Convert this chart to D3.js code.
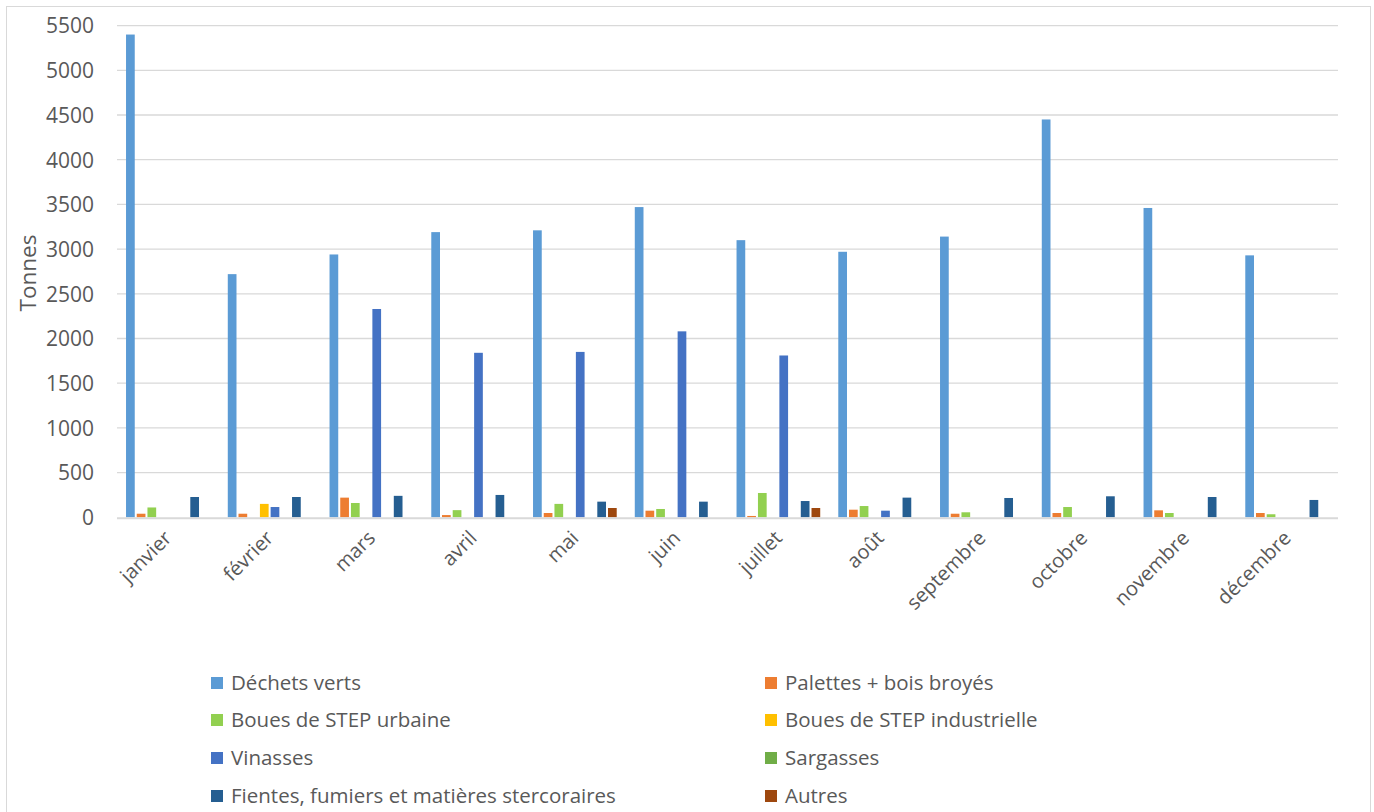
<!DOCTYPE html>
<html>
<head>
<meta charset="utf-8">
<script src="https://cdn.jsdelivr.net/npm/d3@7"></script>
<style>
  html, body { margin: 0; padding: 0; background: #fff; }
  svg { display: block; font-family: "Open Sans", "Noto Sans", sans-serif; }
</style>
</head>
<body>
<svg id="chart" width="1374" height="812"></svg>
<script>
const months = ["janvier","février","mars","avril","mai","juin","juillet","août","septembre","octobre","novembre","décembre"];
const seriesNames = ["Déchets verts","Palettes + bois broyés","Boues de STEP urbaine","Boues de STEP industrielle","Vinasses","Sargasses","Fientes, fumiers et matières stercoraires","Autres"];
const seriesColors = ["#5B9BD5","#ED7D31","#92D050","#FFC000","#4472C4","#70AD47","#255E91","#9E480E"];

const dechetsVerts = [5400, 2720, 2940, 3190, 3210, 3470, 3100, 2970, 3140, 4450, 3460, 2930];
const palettes     = [40, 40, 220, 25, 48, 74, 15, 85, 40, 48, 78, 48];
const bouesUrbaine = [110, 0, 160, 80, 150, 93, 272, 126, 56, 115, 48, 34];
const bouesIndus   = [0, 150, 0, 0, 0, 0, 0, 0, 0, 0, 0, 0];
const vinasses     = [0, 115, 2330, 1840, 1850, 2080, 1810, 74, 0, 0, 0, 0];
const sargasses    = [0, 0, 0, 0, 0, 0, 0, 0, 0, 0, 0, 0];
const fientes      = [227, 227, 240, 250, 175, 175, 182, 220, 216, 235, 227, 194];
const autres       = [0, 0, 0, 0, 104, 0, 104, 0, 0, 0, 0, 0];

const yTicks = [0,500,1000,1500,2000,2500,3000,3500,4000,4500,5000,5500];
const yTitle = "Tonnes";

const seriesValues = [dechetsVerts, palettes, bouesUrbaine, bouesIndus, vinasses, sargasses, fientes, autres];

const svg = d3.select("#chart");

// chart border
svg.append("rect").attr("x", 6.5).attr("y", 6.5).attr("width", 1364).attr("height", 812)
  .attr("fill", "#fff").attr("stroke", "#D9D9D9").attr("stroke-width", 1);

const plotLeft = 117, plotRight = 1338, plotTop = 25.6, plotBottom = 517.3;

const x0 = d3.scaleBand().domain(months).range([plotLeft, plotRight])
  .paddingInner(1.5/9.5).paddingOuter(0.75/9.5);
const x1 = d3.scaleBand().domain(d3.range(seriesNames.length)).range([0, x0.bandwidth()]).padding(0);
const y = d3.scaleLinear().domain([0, 5500]).range([plotBottom, plotTop]);

// gridlines
svg.append("g").selectAll("line").data(yTicks.filter(d => d > 0)).join("line")
  .attr("x1", plotLeft).attr("x2", plotRight)
  .attr("y1", d => y(d)).attr("y2", d => y(d))
  .attr("stroke", "#D9D9D9").attr("stroke-width", 1.3);

// y axis labels
const yAxis = d3.axisLeft(y).tickValues(yTicks).tickSize(0).tickPadding(0).tickFormat(d3.format("d"));
const yg = svg.append("g").attr("transform", `translate(${plotLeft - 23},0)`).call(yAxis);
yg.select(".domain").remove();
yg.selectAll("text").attr("fill", "#595959").attr("font-size", 21)
  .attr("font-family", "'Open Sans', sans-serif").attr("dy", "0.35em");

// bars
const inset = 1;
const groups = svg.append("g").selectAll("g").data(months).join("g")
  .attr("transform", d => `translate(${x0(d)},0)`);
groups.selectAll("rect").data((m, i) => seriesValues.map((vals, s) => ({s, v: vals[i]})).filter(d => d.v > 0))
  .join("rect")
  .attr("x", d => x1(d.s) + inset)
  .attr("width", x1.bandwidth() - 2 * inset)
  .attr("y", d => y(d.v))
  .attr("height", d => y(0) - y(d.v))
  .attr("fill", d => seriesColors[d.s]);

// baseline
svg.append("line").attr("x1", plotLeft).attr("x2", plotRight)
  .attr("y1", plotBottom + 1).attr("y2", plotBottom + 1)
  .attr("stroke", "#D9D9D9").attr("stroke-width", 2);

// x labels
const xAxis = d3.axisBottom(x0).tickSize(0).tickPadding(0);
const xg = svg.append("g").attr("transform", `translate(0,${plotBottom})`).call(xAxis);
xg.select(".domain").remove();
xg.selectAll("text")
  .attr("fill", "#595959").attr("font-size", 20).attr("font-family", "'Open Sans', sans-serif")
  .attr("text-anchor", "end")
  .attr("dy", null).attr("y", null)
  .attr("transform", "translate(5,22) rotate(-45)");

// y title
svg.append("text").attr("transform", "translate(36,273) rotate(-90)")
  .attr("text-anchor", "middle").attr("fill", "#595959").attr("font-size", 22.5)
  .text(yTitle);

// legend
const legendCols = [211, 765];
const legendRows = [683, 720, 758, 796];
const lg = svg.append("g").selectAll("g").data(seriesNames).join("g")
  .attr("transform", (d, i) => `translate(${legendCols[i % 2]},${legendRows[Math.floor(i / 2)]})`);
lg.append("rect").attr("x", 0).attr("y", -6).attr("width", 12).attr("height", 12)
  .attr("fill", (d, i) => seriesColors[i]);
lg.append("text").attr("x", 20).attr("dy", "0.35em").attr("fill", "#595959").attr("font-size", 20.5)
  .text(d => d);
</script>
</body>
</html>
